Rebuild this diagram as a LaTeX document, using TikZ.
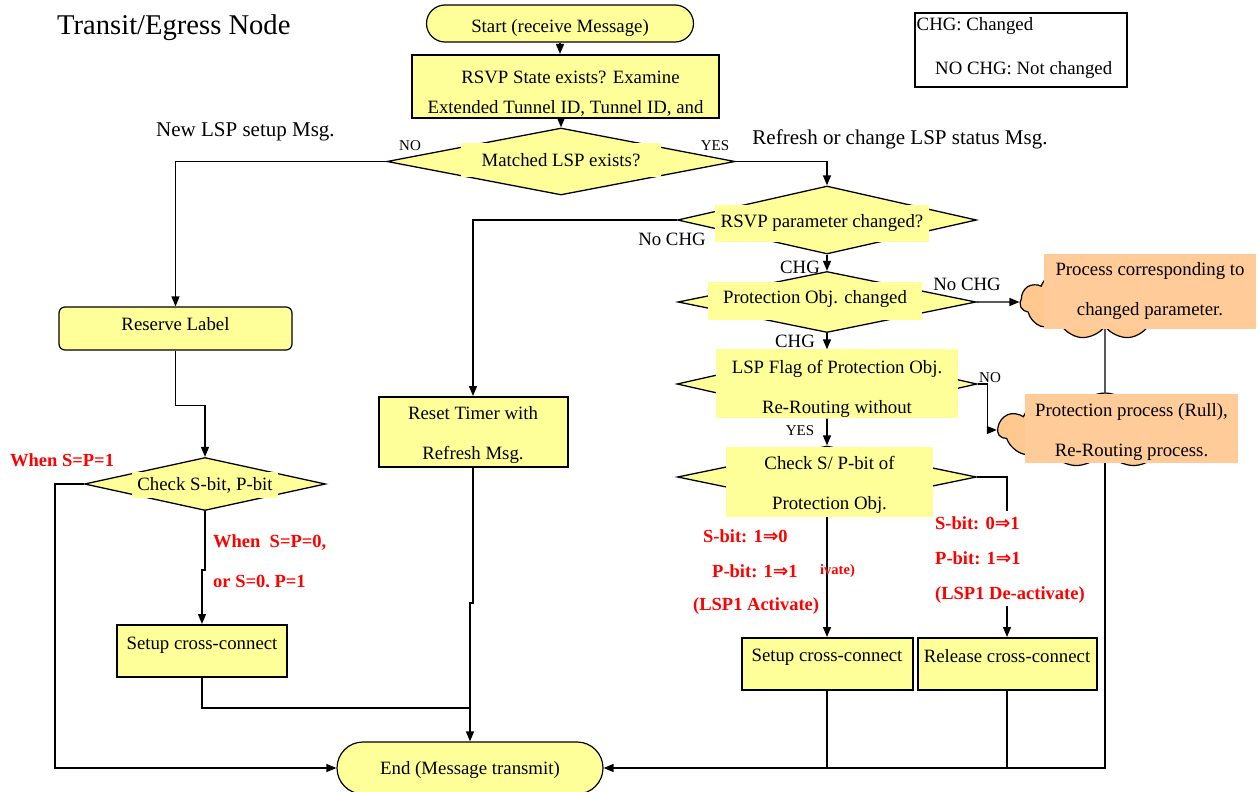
\documentclass[tikz,border=0pt]{standalone}
\usepackage{fontspec}
\setmainfont{Liberation Serif}
\newfontfamily\arrfont{DejaVu Sans}
\usetikzlibrary{arrows.meta,shapes.geometric,shapes.symbols,shapes.misc}
\definecolor{yel}{HTML}{FFFF99}
\definecolor{peach}{HTML}{FFCC99}
\definecolor{cloudc}{HTML}{FFC88F}
\definecolor{alert}{HTML}{FF0000}
\newcommand{\txtfont}{\fontsize{18.8}{40}\selectfont}
\newcommand{\bigtxtfont}{\fontsize{21}{24}\selectfont}
\newcommand{\tagfont}{\fontsize{15}{18}\selectfont}
\newcommand{\redfont}{\fontsize{18.5}{35}\selectfont\bfseries}
\newcommand{\imp}{{\arrfont\bfseries ⇒}}
% strut that pushes a first line downwards
\newcommand{\lift}[1]{\rule{0pt}{#1}}
\tikzset{
  conn/.style={line width=1.4pt},
  arr/.style={conn,-{Triangle[length=10pt,width=8pt]}},
  term/.style={rounded rectangle,draw,line width=1.2pt,fill=yel,inner sep=0pt,font=\txtfont},
  box/.style={rectangle,draw,line width=2pt,fill=yel,inner sep=0pt,align=center,font=\txtfont},
  dia/.style={diamond,draw,line width=1.3pt,fill=yel,inner sep=0pt},
  puff/.style={cloud,cloud puffs=11,cloud puff arc=120,draw,line width=1.2pt,fill=cloudc,inner sep=0pt},
  lbl/.style={rectangle,fill=yel,inner sep=0pt,align=center,font=\txtfont},
  plbl/.style={rectangle,fill=peach,inner sep=0pt,align=center,font=\txtfont},
  note/.style={inner sep=0pt,font=\txtfont},
  tag/.style={inner sep=0pt,font=\tagfont},
  cond/.style={inner sep=0pt,font=\redfont,text=alert,align=left}
}
\begin{document}
\begin{tikzpicture}[x=1pt,y=-1pt]
\fill[white] (0,0) rectangle (1258,792);
\useasboundingbox (0,0) rectangle (1258,792);

% ---- title and legend
\node[note,anchor=west,font=\fontsize{28.6}{32}\selectfont] (title) at (57,28) {Transit/Egress Node};
\node[rectangle,draw,line width=2pt,minimum width=212pt,minimum height=74pt,inner sep=0pt] (legend) at (1021,50) {};
\node[note,anchor=west] (legA) at (916.5,26) {CHG: Changed};
\node[note,anchor=west] (legB) at (935,70) {NO CHG: Not changed};

% ---- shapes
\node[term,minimum width=267pt,minimum height=37pt,text height=22pt,text depth=4pt] (start) at (560,23.5) {Start (receive Message)};
\node[box,minimum width=307pt,minimum height=63pt,font=\fontsize{18.8}{30}\selectfont] (rsvp) at (565.5,86.5)
  {\lift{26pt}\hspace*{10pt}RSVP State exists? Examine\\Extended Tunnel ID, Tunnel ID, and};
\node[dia,minimum width=348pt,minimum height=67pt] (d1) at (561,161.5) {};
\node[dia,minimum width=299pt,minimum height=68pt] (d2) at (827,220) {};
\node[dia,minimum width=298pt,minimum height=61pt] (d3) at (827,302) {};
\node[dia,minimum width=300pt,minimum height=68pt] (d4) at (827,384) {};
\node[dia,minimum width=299pt,minimum height=62pt] (d5) at (827,477) {};
\node[dia,minimum width=241pt,minimum height=53pt] (d6) at (205,484) {};
\node[puff,minimum width=170pt,minimum height=74pt] (cloud1) at (1105,302) {};
\node[puff,minimum width=214pt,minimum height=74pt] (cloud2) at (1105,430) {};
\node[rectangle,rounded corners=6pt,draw,line width=1.2pt,fill=yel,minimum width=233pt,minimum height=43pt,inner sep=0pt,font=\txtfont,text depth=10pt]
  (reserve) at (175.5,328.5) {Reserve Label};
\node[box,minimum width=189pt,minimum height=70pt] (reset) at (473,432) {\lift{20pt}Reset Timer with\\Refresh Msg.};
\node[box,minimum width=170pt,minimum height=52pt,text depth=15pt] (setupL) at (202,651) {Setup cross-connect};
\node[box,minimum width=171pt,minimum height=52pt,text depth=17pt] (setupR) at (827,664) {Setup cross-connect};
\node[box,minimum width=179pt,minimum height=52pt,text depth=17pt] (release) at (1007,664) {Release cross-connect};
\node[term,minimum width=266pt,minimum height=52pt,text height=16pt,text depth=4pt] (end) at (470,768) {End (Message transmit)};

% ---- connectors
\draw[arr] (start.south) -- (start.south |- rsvp.north);
\draw[arr] (d1.north |- rsvp.south) -- (d1.north);
\draw[arr] (d1.west) -| (reserve.north);
\draw[arr] (d1.east) -| (d2.north);
\draw[arr] (d2.west) -| (reset.north);
\draw[arr] (d2.south) -- (d3.north);
\draw[arr] (d3.east) -- (cloud1.west);
\draw[arr] (d3.south) -- (d4.north);
\draw[arr] (d4.east) -- ++(10,0) |- (cloud2.west);
\draw[arr] (d4.south) -- (d5.north);
\draw[arr] (d5.south) -- (setupR.north);
\draw[arr] (d5.east) -| (release.north);
\draw[conn] (cloud1.south) -- (cloud2.north);
\draw[arr] (cloud2.south) |- (end.east);
\draw[conn] (setupR.south) -- (setupR.south |- end.east);
\draw[conn] (release.south) -- (release.south |- end.east);
\draw[arr] (reserve.south) -- ++(0,55) -| (d6.north);
\draw[arr] (d6.west) -- ++(-29,0) |- (end.west);
\draw[arr] (d6.south) -- ++(0,59) -| (setupL.north);
\draw[arr] (reset.south) -- ++(0,135) -| (end.north);
\coordinate (merge) at (end.north |- 0,708);
\draw[conn] (setupL.south) |- (merge);

% ---- decision and process texts
\node[lbl,minimum width=200pt,minimum height=34pt] (t1) at (561,160) {Matched LSP exists?};
\node[lbl,minimum width=214pt,minimum height=37pt] (t2) at (822,223.5) {RSVP parameter changed?};
\node[lbl,minimum width=214pt,minimum height=38pt,text depth=8pt] (t3) at (815,301) {Protection Obj. changed};
\node[lbl,minimum width=242pt,minimum height=63pt] (t4) at (837,383.5) {\lift{24pt}LSP Flag of Protection Obj.\\Re-Routing without};
\node[lbl,minimum width=207pt,minimum height=70pt] (t5) at (829.5,482) {\lift{18pt}Check S/ P-bit of\\Protection Obj.};
\node[lbl,minimum width=146pt,minimum height=26pt] (t6) at (205,485) {Check S-bit, P-bit};
\node[plbl,minimum width=212pt,minimum height=75pt] (t7) at (1150,291.5) {Process corresponding to\\changed parameter.};
\node[plbl,minimum width=213pt,minimum height=69pt] (t8) at (1131.5,428.5) {\lift{20pt}Protection process (Rull),\\Re-Routing process.};

% ---- branch labels
\node[tag] (noA) at (410,146) {NO};
\node[tag] (yesA) at (715,146) {YES};
\node[note,font=\bigtxtfont] (newmsg) at (245.5,132) {New LSP setup Msg.};
\node[note,font=\bigtxtfont] (refmsg) at (900,139) {Refresh or change LSP status Msg.};
\node[note] (nochgA) at (672,239) {No CHG};
\node[note] (chgA) at (800,267) {CHG};
\node[note] (nochgB) at (967,284) {No CHG};
\node[note] (chgB) at (795,341) {CHG};
\node[tag] (noB) at (990,378) {NO};
\node[tag] (yesB) at (800,431) {YES};

% ---- bit conditions
\node[cond,anchor=west] (c1) at (10,460) {When S=P=1};
\node[cond,anchor=west] (c2) at (213,543) {When\ \ S=P=0,};
\begin{scope}
  \clip (205,560) rectangle (340,586);
  \node[cond,anchor=west] (c3) at (213,583) {or S=0, P=1};
\end{scope}
\node[cond,anchor=west] (c4) at (703,536) {S-bit: 1\imp0};
\node[cond,anchor=west] (c5) at (712,571) {P-bit: 1\imp1};
\node[cond,anchor=west] (c6) at (693,606) {(LSP1 Activate)};
\node[cond,anchor=west,font=\fontsize{14.5}{16}\selectfont\bfseries] (c7) at (820,571) {ivate)};
\node[cond,anchor=north west,fill=white,inner xsep=2pt,inner ysep=3pt] (c8) at (933,511)
  {\lift{15pt}S-bit: 0\imp1\\P-bit: 1\imp1\\(LSP1 De-activate)};
\end{tikzpicture}
\end{document}
